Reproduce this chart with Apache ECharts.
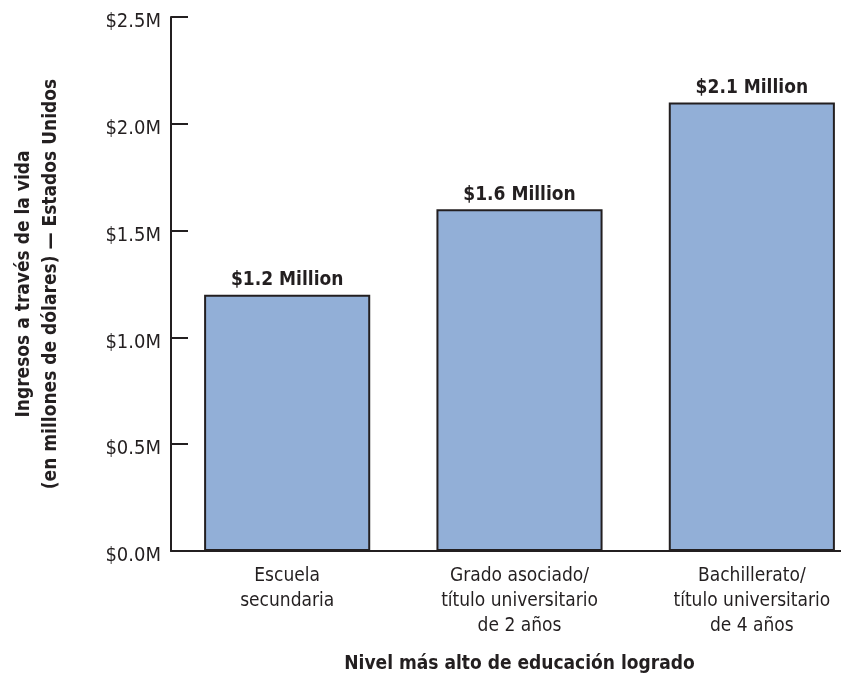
<!DOCTYPE html>
<html>
<head>
<meta charset="utf-8">
<script src="https://cdn.jsdelivr.net/npm/echarts@6/dist/echarts.min.js"></script>
<style>
html,body{margin:0;padding:0;background:#fff;}
#main{width:841px;height:682px;}
</style>
</head>
<body>
<div id="main"></div>
<script>
var categories = ['Escuela\nsecundaria', 'Grado asociado/\ntítulo universitario\nde 2 años', 'Bachillerato/\ntítulo universitario\nde 4 años'];
var earnings = [1.2, 1.6, 2.1];
var barLabels = ['$1.2 Million', '$1.6 Million', '$2.1 Million'];
var yTicks = [0, 0.5, 1.0, 1.5, 2.0, 2.5];
var yAxisTitle = 'Ingresos a través de la vida\n(en millones de dólares) — Estados Unidos';
var xAxisTitle = 'Nivel más alto de educación logrado';

var FONT = '"DejaVu Sans Condensed", "Liberation Sans Narrow", "Arial Narrow", sans-serif';
var INK = '#231f20';
var chart = echarts.init(document.getElementById('main'));
chart.setOption({
  backgroundColor: '#ffffff',
  animation: false,
  grid: { left: 171, top: 17, width: 697, height: 534, containLabel: false, outerBoundsMode: 'none' },
  xAxis: {
    type: 'category',
    data: categories,
    axisLine: { lineStyle: { color: INK, width: 2 } },
    axisTick: { show: false },
    axisLabel: { color: INK, fontFamily: FONT, fontSize: 19, lineHeight: 25, margin: 13, interval: 0 },
    name: xAxisTitle,
    nameLocation: 'middle',
    nameGap: 104,
    nameTextStyle: { color: INK, fontFamily: FONT, fontSize: 19, fontWeight: 'bold' }
  },
  yAxis: {
    type: 'value',
    min: 0, max: 2.5, interval: 0.5,
    axisLine: { show: true, lineStyle: { color: INK, width: 2 } },
    axisTick: { show: true, inside: true, length: 17, lineStyle: { color: INK, width: 2 } },
    splitLine: { show: false },
    axisLabel: {
      color: INK, fontFamily: FONT, fontSize: 20, margin: 10, lineHeight: 10, verticalAlign: 'top',
      formatter: function (v) { return yTicks.indexOf(v) >= 0 ? '$' + v.toFixed(1) + 'M' : ''; }
    },
    name: yAxisTitle,
    nameLocation: 'middle',
    nameGap: 106,
    nameRotate: 90,
    nameTextStyle: { color: INK, fontFamily: FONT, fontSize: 19, fontWeight: 'bold', lineHeight: 27 }
  },
  series: [{
    type: 'bar',
    data: earnings,
    barCategoryGap: '28.5%',
    itemStyle: { color: '#92afd7', borderColor: INK, borderWidth: 2 },
    label: {
      show: true, position: 'top', distance: 5,
      color: INK, fontFamily: FONT, fontSize: 19, fontWeight: 'bold',
      formatter: function (p) { return barLabels[p.dataIndex]; }
    }
  }]
});
</script>
</body>
</html>
